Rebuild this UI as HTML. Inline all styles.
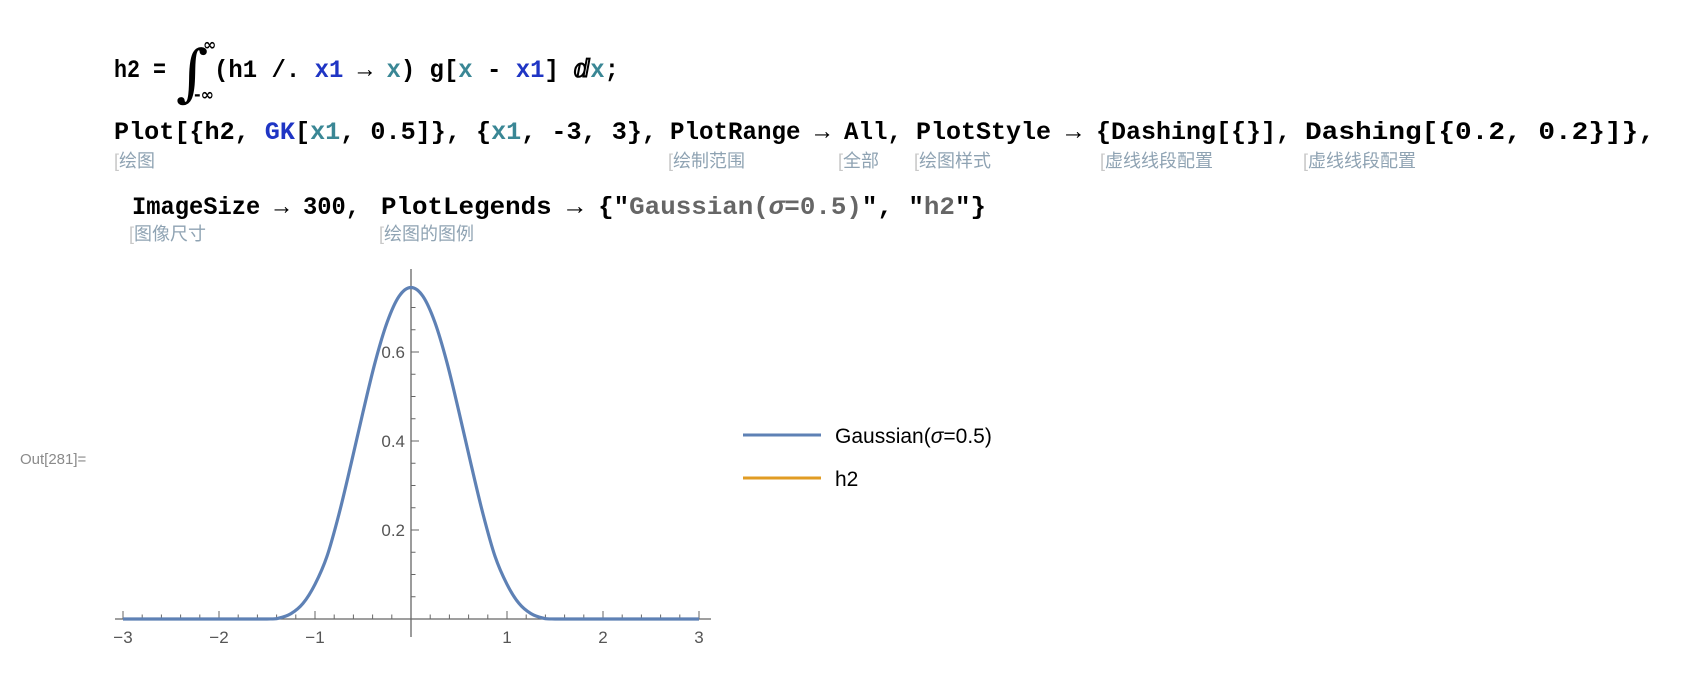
<!DOCTYPE html>
<html><head><meta charset="utf-8"><style>
html,body{margin:0;padding:0;background:#fff;}
svg{display:block;}
.code{font-family:"Liberation Mono","Noto Sans CJK SC",monospace;font-weight:bold;font-size:25px;fill:#000;}
.ann{font-family:"Liberation Sans","Noto Sans CJK SC",sans-serif;font-size:18px;fill:#8fa3b3;}
.tick{font-family:"Liberation Sans",sans-serif;font-size:17px;fill:#555;}
</style></head><body>
<svg id="page" width="1694" height="676" viewBox="0 0 1694 676" xmlns="http://www.w3.org/2000/svg">
<g>
<text class="code" x="114" y="77" textLength="52" lengthAdjust="spacingAndGlyphs">h2 =</text>
<text x="176" y="94" font-family="DejaVu Serif, serif" font-size="62" fill="#000">∫</text>
<text x="203" y="50" font-family="DejaVu Sans, sans-serif" font-size="16" font-weight="bold" fill="#000">∞</text>
<text x="194" y="100" font-family="DejaVu Sans, sans-serif" font-size="16" font-weight="bold" fill="#000">-∞</text>
<text class="code" x="214" y="77" textLength="405" lengthAdjust="spacingAndGlyphs">(h1 /. <tspan fill="#1f35c4">x1</tspan> → <tspan fill="#3a8795">x</tspan>) g[<tspan fill="#3a8795">x</tspan> - <tspan fill="#1f35c4">x1</tspan>] ⅆ<tspan fill="#3a8795">x</tspan>;</text>
</g>
<g>
<text class="code" x="114" y="139" textLength="543" lengthAdjust="spacingAndGlyphs">Plot[{h2, <tspan fill="#1f35c4">GK</tspan>[<tspan fill="#3a8795">x1</tspan>, 0.5]}, {<tspan fill="#3a8795">x1</tspan>, -3, 3},</text>
<text class="code" x="670" y="139" textLength="232" lengthAdjust="spacingAndGlyphs">PlotRange → All,</text>
<text class="code" x="916" y="139" textLength="375" lengthAdjust="spacingAndGlyphs">PlotStyle → {Dashing[{}],</text>
<text class="code" x="1305" y="139" textLength="350" lengthAdjust="spacingAndGlyphs">Dashing[{0.2, 0.2}]},</text>
<text class="code" x="132" y="214" textLength="228" lengthAdjust="spacingAndGlyphs">ImageSize → 300,</text>
<text class="code" x="381" y="214" textLength="605" lengthAdjust="spacingAndGlyphs">PlotLegends → {"<tspan fill="#666">Gaussian(</tspan><tspan fill="#666" font-style="italic">σ</tspan><tspan fill="#666">=0.5)</tspan>", "<tspan fill="#666">h2</tspan>"}</text>
<g>
<text class="ann" x="114" y="167"><tspan fill="#c8c8c8">[</tspan>绘图</text>
<text class="ann" x="668" y="167"><tspan fill="#c8c8c8">[</tspan>绘制范围</text>
<text class="ann" x="838" y="167"><tspan fill="#c8c8c8">[</tspan>全部</text>
<text class="ann" x="914" y="167"><tspan fill="#c8c8c8">[</tspan>绘图样式</text>
<text class="ann" x="1100" y="167"><tspan fill="#c8c8c8">[</tspan>虚线线段配置</text>
<text class="ann" x="1303" y="167"><tspan fill="#c8c8c8">[</tspan>虚线线段配置</text>
<text class="ann" x="129" y="240"><tspan fill="#c8c8c8">[</tspan>图像尺寸</text>
<text class="ann" x="379" y="240"><tspan fill="#c8c8c8">[</tspan>绘图的图例</text>
</g>
</g>
<text x="20" y="464" font-family="Liberation Sans, sans-serif" font-size="15" fill="#8a8a8a">Out[281]=</text>
<g id="chart"></g>
<g>
<g>
<line x1="743" y1="435" x2="821" y2="435" stroke="#5e81b5" stroke-width="3"/>
<text x="835" y="443" font-family="Liberation Sans, sans-serif" font-size="21" fill="#000">Gaussian(<tspan font-style="italic">σ</tspan>=0.5)</text>
</g>
<g>
<line x1="743" y1="478" x2="821" y2="478" stroke="#e19c24" stroke-width="3"/>
<text x="835" y="486" font-family="Liberation Sans, sans-serif" font-size="21" fill="#000">h2</text>
</g>
</g>
</svg>
<script>
const xs = [-3, -2, -1.5, -1.375, -1.25, -1.125, -1, -0.875, -0.75, -0.625, -0.5, -0.375, -0.25, -0.125, 0, 0.125, 0.25, 0.375, 0.5, 0.625, 0.75, 0.875, 1, 1.125, 1.25, 1.375, 1.5, 2, 3];
const gaussianValues = [0, 0, 0, 0.002, 0.012, 0.035, 0.078, 0.141, 0.236, 0.348, 0.465, 0.576, 0.666, 0.725, 0.745, 0.725, 0.666, 0.576, 0.465, 0.348, 0.236, 0.141, 0.078, 0.035, 0.012, 0.002, 0, 0, 0];
const xTickLabels = [-3, -2, -1, 1, 2, 3];
const yTickLabels = [0.2, 0.4, 0.6];

const NS = 'http://www.w3.org/2000/svg';
const chart = document.getElementById('chart');
const X0 = 411, XU = 96, Y0 = 619, YU = 445;
const sx = v => X0 + v * XU;
const sy = v => Y0 - v * YU;
function mk(tag, attrs, parent) {
  const e = document.createElementNS(NS, tag);
  for (const k in attrs) e.setAttribute(k, attrs[k]);
  (parent || chart).appendChild(e);
  return e;
}
const ax = mk('g', {});


const xa = mk('line', {x1: 115, y1: Y0, x2: 711, y2: Y0, stroke: '#666', 'stroke-width': 1.3}, ax);


const ya = mk('line', {x1: X0, y1: 269, x2: X0, y2: 637, stroke: '#666', 'stroke-width': 1.3}, ax);


for (let i = -15; i <= 15; i++) {
  const v = i / 5;
  const major = i % 5 === 0;
  if (v === 0) continue;
  mk('line', {x1: sx(v), y1: Y0, x2: sx(v), y2: Y0 - (major ? 8 : 4.5), stroke: '#666', 'stroke-width': 1}, ax);
}
for (let i = 1; i <= 14; i++) {
  const v = i * 0.05;
  const major = i % 4 === 0;
  mk('line', {x1: X0, y1: sy(v), x2: X0 + (major ? 8 : 4.5), y2: sy(v), stroke: '#666', 'stroke-width': 1}, ax);
}
xTickLabels.forEach(v => {
  const t = mk('text', {x: sx(v), y: 643, 'text-anchor': 'middle', class: 'tick'}, ax);
  t.textContent = v < 0 ? '−' + Math.abs(v) : String(v);
  
  
});
yTickLabels.forEach(v => {
  const t = mk('text', {x: X0 - 6, y: sy(v) + 6, 'text-anchor': 'end', class: 'tick'}, ax);
  t.textContent = String(v);
  
  
});
const pts = xs.map((x, i) => [sx(x), sy(gaussianValues[i])]);
let d = 'M' + pts[0][0] + ',' + pts[0][1];
for (let i = 0; i < pts.length - 1; i++) {
  const p0 = pts[Math.max(0, i - 1)], p1 = pts[i], p2 = pts[i + 1], p3 = pts[Math.min(pts.length - 1, i + 2)];
  const c1 = [p1[0] + (p2[0] - p0[0]) / 6, p1[1] + (p2[1] - p0[1]) / 6];
  const c2 = [p2[0] - (p3[0] - p1[0]) / 6, p2[1] - (p3[1] - p1[1]) / 6];
  d += ' C' + c1[0] + ',' + c1[1] + ' ' + c2[0] + ',' + c2[1] + ' ' + p2[0] + ',' + p2[1];
}
const curve = mk('path', {d: d, fill: 'none', stroke: '#5e81b5', 'stroke-width': 3.2, 'stroke-linejoin': 'round'});


</script>
</body></html>
